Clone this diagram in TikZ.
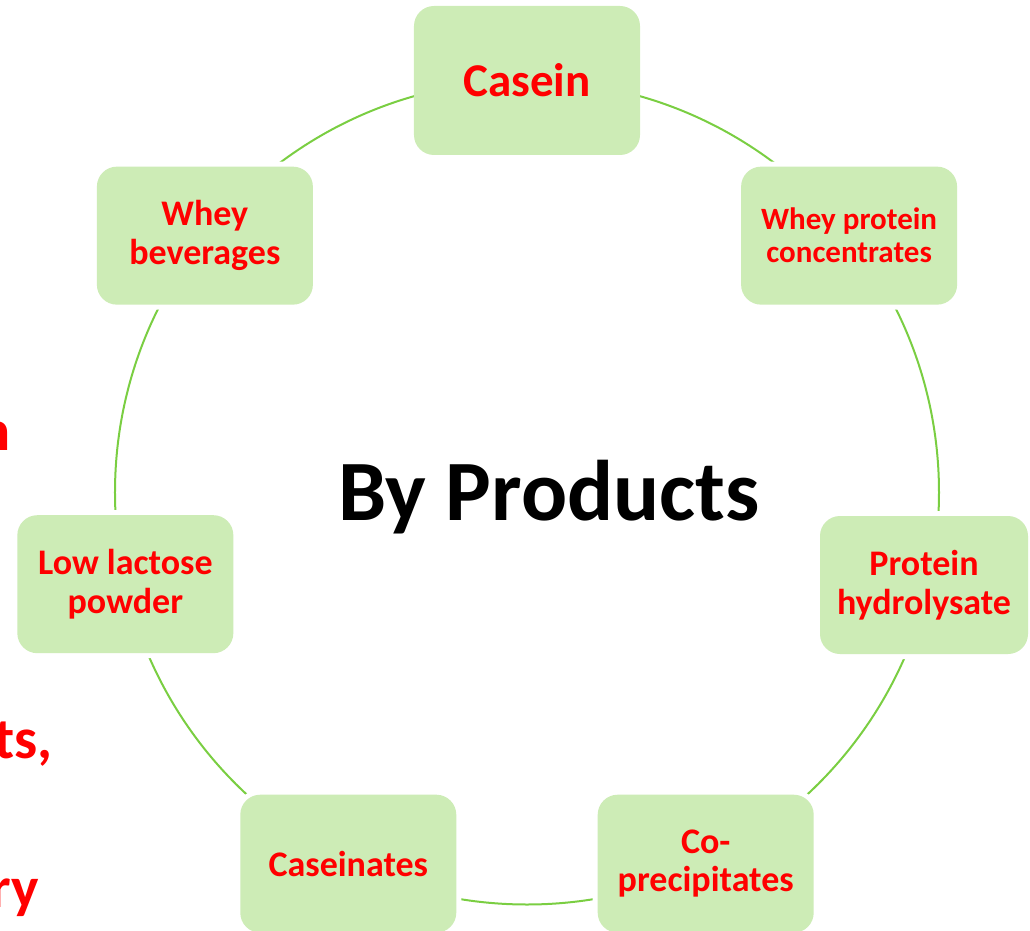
\documentclass[tikz,border=0pt]{standalone}
\usepackage{fontspec}
\setmainfont{Carlito}
\definecolor{boxgreen}{RGB}{205,236,182}
\definecolor{ringgreen}{RGB}{122,206,66}
\tikzset{
  prodbase/.style={rectangle, rounded corners=20pt, fill=boxgreen, text=red,
    align=center, inner sep=0pt, minimum width=216pt, minimum height=138pt,
    font=\bfseries\fontsize{36}{38.5}\selectfont},
  prodbox/.style={prodbase, preaction={draw=white, line width=10pt}},
  caseinbox/.style={prodbase, minimum width=226pt, minimum height=149pt,
    font=\bfseries\fontsize{47}{50}\selectfont},
  edgetext/.style={text=red, anchor=base east, inner sep=0pt,
    font=\bfseries\fontsize{58}{62}\selectfont},
}
\begin{document}
\begin{tikzpicture}[x=1pt,y=1pt]
\useasboundingbox (-527,-437.5) rectangle (503,492.5);
\coordinate (hub) at (0,0);
\draw[ringgreen, line width=2pt] (hub) circle (412);
% products round the ring
\node[caseinbox] (casein) at (90:412) {Casein};
\node[prodbox, font=\bfseries\fontsize{31}{33}\selectfont] (wpc) at (38.57:412) {Whey protein\\concentrates};
\node[prodbox, minimum width=208pt] (hydro) at (397,-92.5) {Protein\\hydrolysate};
\node[prodbox] (copre) at (-64.29:412) {Co-\\precipitates};
\node[prodbox] (caseinates) at (-115.71:412) {Caseinates};
\node[prodbox] (lowlac) at (-167.14:412) {Low lactose\\powder};
\node[prodbox] (wbev) at (141.43:412) {Whey\\beverages};
\node[anchor=base, inner sep=0pt, font=\bfseries\fontsize{86}{90}\selectfont] (title) at (22,-27.5) {By Products};
% text cut off at the left edge
\node[edgetext] (frag1) at (-516.5,42.5) {n};
\node[edgetext] (frag2) at (-474,-265.5) {ts,};
\node[edgetext] (frag3) at (-488,-414.5) {ry};
\end{tikzpicture}
\end{document}
